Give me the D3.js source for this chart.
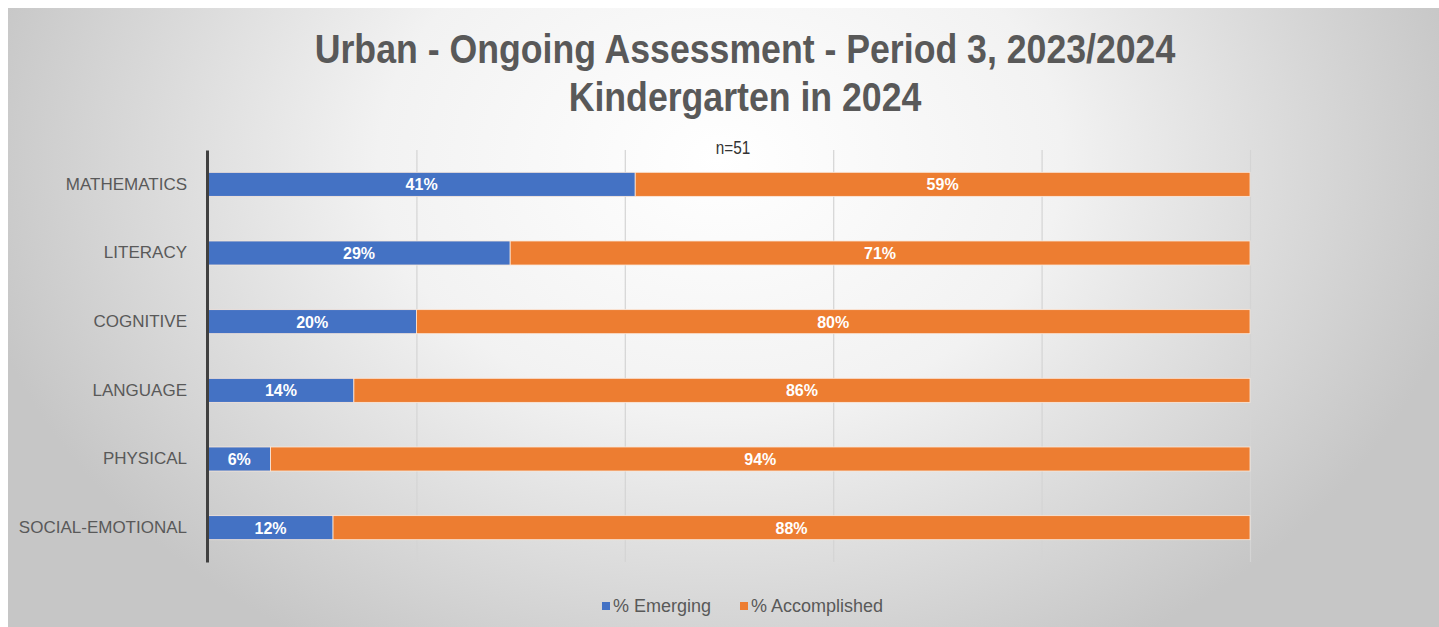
<!DOCTYPE html>
<html>
<head>
<meta charset="utf-8">
<script src="https://cdn.jsdelivr.net/npm/d3@7"></script>
<style>
  html, body { margin: 0; padding: 0; background: #fff; }
  svg { display: block; }
</style>
</head>
<body>
<script>
// Chart data
const categories = ['MATHEMATICS', 'LITERACY', 'COGNITIVE', 'LANGUAGE', 'PHYSICAL', 'SOCIAL-EMOTIONAL'];
const emerging = [41, 29, 20, 14, 6, 12];
const accomplished = [59, 71, 80, 86, 94, 88];
const seriesNames = ['% Emerging', '% Accomplished'];
const xTicks = [0, 20, 40, 60, 80, 100];

const width = 1439;
const height = 627;
const colors = ['#4472C4', '#ED7D31'];
const font = '"Liberation Sans", Arial, sans-serif';

const svg = d3.select('body')
    .append('svg')
    .attr('width', width)
    .attr('height', height);

// Background gradient (white in the middle, grey at the edges)
const defs = svg.append('defs');
const grad = defs.append('radialGradient')
    .attr('id', 'bg')
    .attr('gradientUnits', 'userSpaceOnUse')
    .attr('cx', 720).attr('cy', 160).attr('r', 760)
    .attr('gradientTransform', 'translate(720,160) scale(1,0.75) translate(-720,-160)');
grad.append('stop').attr('offset', '0%').attr('stop-color', '#ffffff');
grad.append('stop').attr('offset', '45%').attr('stop-color', '#f2f2f2');
grad.append('stop').attr('offset', '100%').attr('stop-color', '#c6c6c6');

svg.append('rect')
    .attr('x', 8).attr('y', 8)
    .attr('width', width - 8).attr('height', height - 8)
    .attr('fill', 'url(#bg)');

// Titles (squeezed horizontally to look like a condensed face)
const titles = [['Urban - Ongoing Assessment - Period 3, 2023/2024', 63], ['Kindergarten in 2024', 111]];
titles.forEach(([t, ty]) => {
    svg.append('text')
        .attr('transform', `translate(745,${ty}) scale(0.87,1)`)
        .attr('text-anchor', 'middle')
        .style('font-family', font)
        .style('font-weight', 'bold')
        .style('font-size', '41px')
        .attr('fill', '#595959')
        .text(t);
});

svg.append('text')
    .attr('transform', 'translate(733,154) scale(0.85,1)')
    .attr('text-anchor', 'middle')
    .style('font-family', font)
    .style('font-size', '18px')
    .attr('fill', '#333')
    .text('n=51');

// Scales
const x = d3.scaleLinear().domain([0, 100]).range([208, 1250]);
const y = d3.scaleBand().domain(categories).range([150, 562]).paddingInner(0.65).paddingOuter(0.325);

// Gridlines
svg.append('g')
    .attr('transform', 'translate(0,562)')
    .call(d3.axisBottom(x).tickValues(xTicks.slice(1)).tickSize(-412).tickFormat(''))
    .call(g => g.select('.domain').remove())
    .call(g => g.selectAll('line').attr('stroke', '#d4d4d4').attr('stroke-width', 1.2));

// Stacked bars
const rows = categories.map((c, i) => ({ cat: c, vals: [emerging[i], accomplished[i]] }));
const stack = d3.stack().keys([0, 1]).value((d, k) => d.vals[k]);
const layers = stack(rows);

layers.forEach((layer, k) => {
    svg.append('g')
        .selectAll('rect')
        .data(layer)
        .enter()
        .append('rect')
        .attr('x', d => x(d[0]))
        .attr('y', d => y(d.data.cat))
        .attr('width', d => x(d[1]) - x(d[0]))
        .attr('height', y.bandwidth())
        .attr('fill', colors[k])
        .attr('stroke', '#fbe9dc')
        .attr('stroke-width', 0.8);

    svg.append('g')
        .selectAll('text')
        .data(layer)
        .enter()
        .append('text')
        .attr('x', d => (x(d[0]) + x(d[1])) / 2)
        .attr('y', d => y(d.data.cat) + y.bandwidth() / 2 + 6)
        .attr('text-anchor', 'middle')
        .style('font-family', font)
        .style('font-weight', 'bold')
        .style('font-size', '16px')
        .attr('fill', '#ffffff')
        .text(d => d.data.vals[k] + '%');
});

// Category axis
svg.append('g')
    .attr('transform', 'translate(207,0)')
    .call(d3.axisLeft(y).tickSize(0).tickPadding(20))
    .call(g => g.select('.domain').attr('stroke', '#404040').attr('stroke-width', 3))
    .call(g => g.selectAll('text')
        .style('font-family', font)
        .style('font-size', '17px')
        .attr('fill', '#595959'));

// Legend
const legendX = [602, 740];
seriesNames.forEach((name, k) => {
    svg.append('rect')
        .attr('x', legendX[k]).attr('y', 602)
        .attr('width', 8).attr('height', 8)
        .attr('fill', colors[k]);
    svg.append('text')
        .attr('x', legendX[k] + 11).attr('y', 612)
        .style('font-family', font)
        .style('font-size', '18px')
        .attr('fill', '#595959')
        .text(name);
});
</script>
</body>
</html>
